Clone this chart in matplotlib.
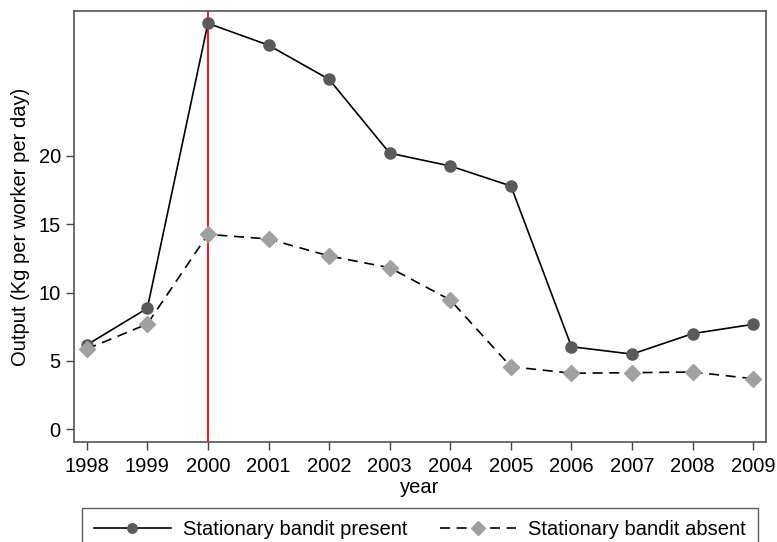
import matplotlib
matplotlib.use("Agg")
import matplotlib.pyplot as plt

years = [1998, 1999, 2000, 2001, 2002, 2003, 2004, 2005, 2006, 2007, 2008, 2009]
present = [6.17, 8.85, 29.7, 28.1, 25.6, 20.2, 19.26, 17.8, 6.04, 5.5, 7.0, 7.68]
absent = [5.87, 7.7, 14.26, 13.92, 12.68, 11.82, 9.46, 4.58, 4.1, 4.14, 4.19, 3.7]
yticks = [0, 5, 10, 15, 20]
event_year = 2000

plt.rcParams['font.family'] = ['Liberation Sans', 'DejaVu Sans']
FS = 14.5

fig = plt.figure(figsize=(7.77, 5.42), dpi=100)
ax = fig.add_axes([74/777, 1 - 442/542, (766-74)/777, (442-11)/542])

ax.axvline(event_year, color='#ff0000', lw=1.3, zorder=1)
l1, = ax.plot(years, present, color='black', lw=1.2, marker='o', markersize=8,
              markerfacecolor='#5a5a5a', markeredgecolor='#5a5a5a', zorder=3,
              label='Stationary bandit present')
l2, = ax.plot(years, absent, color='black', lw=1.2, ls=(0, (6, 4)), marker='D', markersize=8,
              markerfacecolor='#a0a0a0', markeredgecolor='#a0a0a0', zorder=3,
              label='Stationary bandit absent')

ax.set_xlim(1997.79, 2009.21)
ax.set_ylim(-0.93, 30.6)
ax.set_xticks(years)
ax.set_xticklabels([str(y) for y in years])
ax.set_yticks(yticks)
ax.tick_params(axis='both', labelsize=FS, direction='out', length=6, width=1, color='#444444')
ax.tick_params(axis='x', pad=5)
for s in ax.spines.values():
    s.set_color('#555555')
    s.set_linewidth(1.2)
ax.set_xlabel('year', fontsize=FS, labelpad=1)
ax.set_ylabel('Output (Kg per worker per day)', fontsize=FS, labelpad=6)

h = 0.08
leg = fig.legend(handles=[l1, l2], loc='upper left',
                 bbox_to_anchor=(82/777, 1 - 508/542 - h, (758-82)/777, h),
                 mode='expand', ncol=2, fontsize=FS, frameon=True, fancybox=False,
                 edgecolor='#333333', handlelength=3.8, handletextpad=0.6,
                 borderaxespad=0, borderpad=0.6, columnspacing=1.5, markerscale=0.85)
leg.get_frame().set_linewidth(1.0)

fig.savefig('out.png', dpi=100)
